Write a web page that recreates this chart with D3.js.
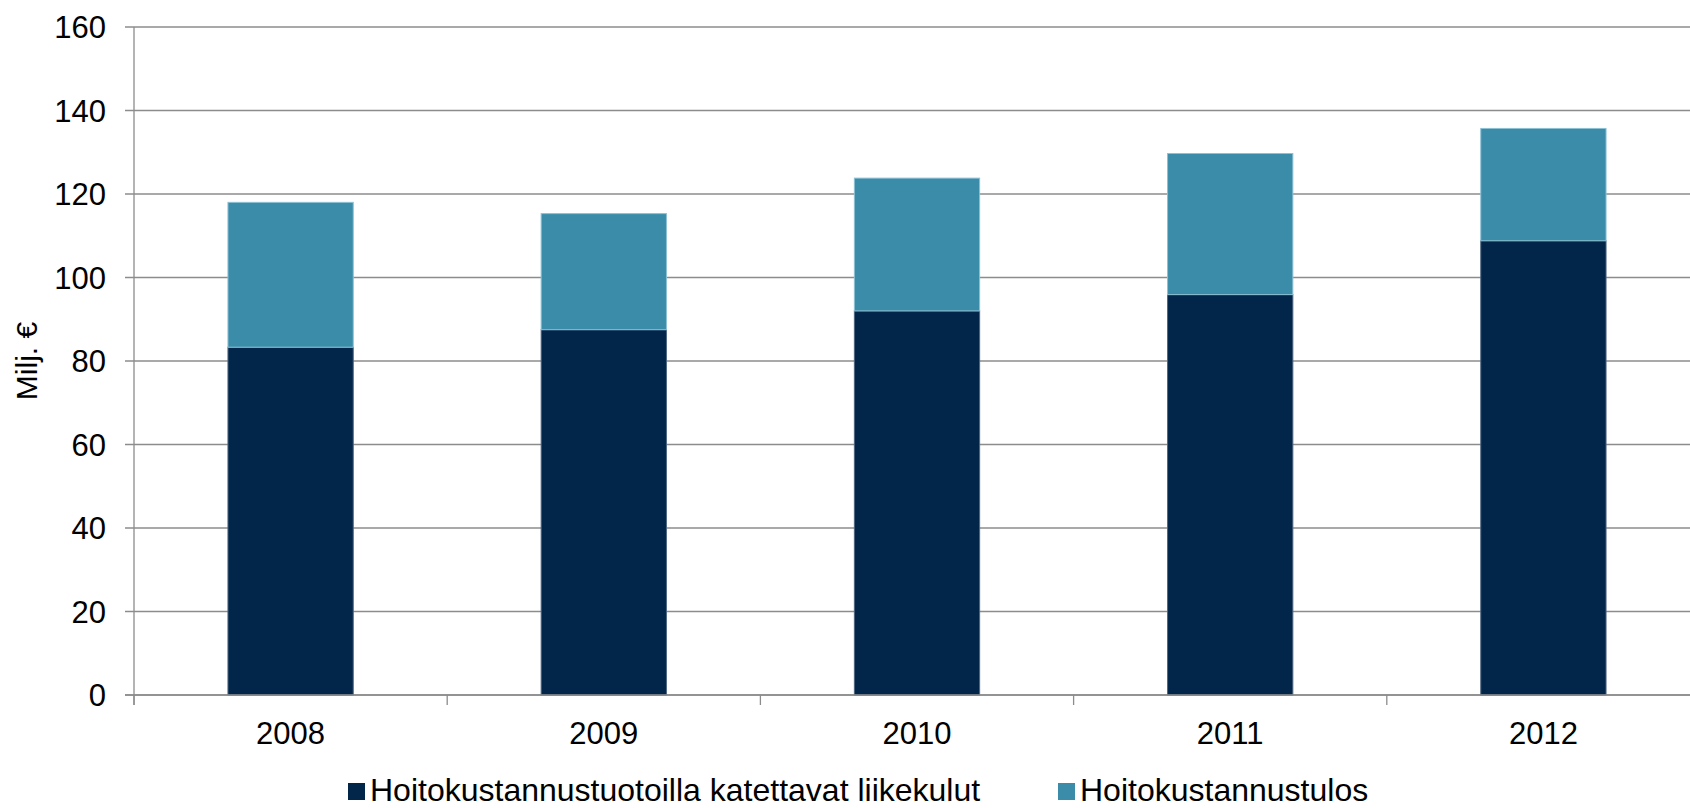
<!DOCTYPE html>
<html>
<head>
<meta charset="utf-8">
<script src="https://cdn.jsdelivr.net/npm/d3@7"></script>
<style>
  body { margin: 0; background: #fff; }
  svg { display: block; font-family: "Liberation Sans", Arial, sans-serif; }
</style>
</head>
<body>
<svg width="1690" height="808"></svg>
<script>
// data (Milj. €)
const years = ["2008", "2009", "2010", "2011", "2012"];
const liikekulut = [83.3, 87.5, 92.0, 95.9, 108.8];   // dark part
const tulos = [34.7, 27.8, 31.8, 33.8, 26.9];          // teal part on top
const yTicks = [0, 20, 40, 60, 80, 100, 120, 140, 160];
const seriesNames = ["Hoitokustannustuotoilla katettavat liikekulut", "Hoitokustannustulos"];
const colors = ["#02264a", "#3a8ca9"];
const strokes = ["#4e6680", "#8cc0d4"];

const svg = d3.select("svg");
const plotLeft = 134, plotRight = 1700, plotTop = 27, plotBottom = 695;

const rows = years.map((y, i) => ({ year: y, a: liikekulut[i], b: tulos[i] }));
const stacked = d3.stack().keys(["a", "b"])(rows);

const x = d3.scaleBand().domain(years).range([plotLeft, plotRight])
  .paddingInner(0.6).paddingOuter(0.3);
const yScale = d3.scaleLinear().domain([0, 160]).range([plotBottom, plotTop]);

// gridlines + y ticks
svg.append("g")
  .selectAll("line")
  .data(yTicks)
  .join("line")
  .attr("x1", plotLeft - 9)
  .attr("x2", plotRight)
  .attr("y1", d => yScale(d))
  .attr("y2", d => yScale(d))
  .attr("stroke", "#8c8c8c")
  .attr("stroke-width", 1.3);

svg.append("g")
  .selectAll("text")
  .data(yTicks)
  .join("text")
  .attr("x", 106)
  .attr("y", d => yScale(d))
  .attr("dy", "0.36em")
  .attr("text-anchor", "end")
  .attr("font-size", 31)
  .attr("fill", "#000")
  .text(d => d);

// y axis title
svg.append("text")
  .attr("transform", `translate(37,${(plotTop + plotBottom) / 2}) rotate(-90)`)
  .attr("text-anchor", "middle")
  .attr("font-size", 30)
  .text("Milj. €");

// bars
svg.append("g")
  .selectAll("g")
  .data(stacked)
  .join("g")
  .attr("fill", (d, i) => colors[i])
  .attr("stroke", (d, i) => strokes[i])
  .attr("stroke-width", 1)
  .selectAll("rect")
  .data(d => d)
  .join("rect")
  .attr("x", d => x(d.data.year))
  .attr("width", x.bandwidth())
  .attr("y", d => yScale(d[1]))
  .attr("height", d => yScale(d[0]) - yScale(d[1]));

// axis lines
const step = x.step();
svg.append("line")
  .attr("x1", plotLeft).attr("x2", plotLeft)
  .attr("y1", plotTop).attr("y2", plotBottom + 10)
  .attr("stroke", "#8c8c8c").attr("stroke-width", 1.3);
svg.append("line")
  .attr("x1", plotLeft - 9).attr("x2", plotRight)
  .attr("y1", plotBottom).attr("y2", plotBottom)
  .attr("stroke", "#8c8c8c").attr("stroke-width", 1.5);
svg.append("g")
  .selectAll("line")
  .data(d3.range(years.length + 1))
  .join("line")
  .attr("x1", i => plotLeft + i * step)
  .attr("x2", i => plotLeft + i * step)
  .attr("y1", plotBottom)
  .attr("y2", plotBottom + 10)
  .attr("stroke", "#8c8c8c").attr("stroke-width", 1.3);

// year labels
svg.append("g")
  .selectAll("text")
  .data(years)
  .join("text")
  .attr("x", d => x(d) + x.bandwidth() / 2)
  .attr("y", 744)
  .attr("text-anchor", "middle")
  .attr("font-size", 31)
  .text(d => d);

// legend
const legendX = [348, 1058];
const legend = svg.append("g")
  .selectAll("g")
  .data(seriesNames)
  .join("g")
  .attr("transform", (d, i) => `translate(${legendX[i]},783)`);
legend.append("rect")
  .attr("width", 17).attr("height", 17)
  .attr("fill", (d, i) => colors[i]);
legend.append("text")
  .attr("x", 22)
  .attr("y", 18)
  .attr("font-size", 32)
  .text(d => d);
</script>
</body>
</html>
